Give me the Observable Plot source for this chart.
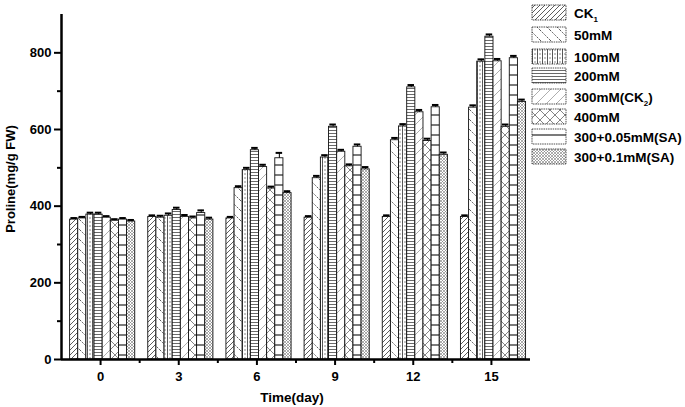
<!DOCTYPE html>
<html>
<head>
<meta charset="utf-8">
<script src="https://cdn.jsdelivr.net/npm/d3@7"></script>
<script src="https://cdn.jsdelivr.net/npm/@observablehq/plot@0.6"></script>
<style>
  html, body { margin: 0; padding: 0; background: #fff; }
  #chart { position: relative; width: 685px; height: 407px; }
</style>
</head>
<body>
<div id="chart"></div>
<script>
const days = [0, 3, 6, 9, 12, 15];
const seriesNames = ["CK1", "50mM", "100mM", "200mM", "300mM(CK2)", "400mM", "300+0.05mM(SA)", "300+0.1mM(SA)"];
const ck1     = [365, 372, 368, 370, 372, 372];
const mM50    = [368, 370, 447, 473, 572, 657];
const mM100   = [378, 375, 494, 527, 608, 777];
const mM200   = [378, 390, 546, 607, 710, 842];
const mM300   = [370, 372, 502, 542, 645, 778];
const mM400   = [362, 368, 446, 504, 570, 607];
const sa005   = [365, 382, 525, 555, 658, 786];
const sa01    = [360, 365, 434, 496, 534, 672];
const errCk1  = [4, 4, 4, 4, 4, 4];
const err50   = [4, 5, 5, 6, 6, 6];
const err100  = [5, 6, 6, 6, 6, 6];
const err200  = [5, 6, 6, 6, 6, 6];
const err300  = [4, 5, 6, 5, 6, 6];
const err400  = [4, 5, 5, 5, 6, 6];
const errSa005= [4, 7, 14, 6, 6, 6];
const errSa01 = [4, 5, 5, 6, 6, 6];
const yMajorTicks = [0, 200, 400, 600, 800];
const yMinorTicks = [100, 300, 500, 700];
const xMinorTicks = [1.5, 4.5, 7.5, 10.5, 13.5];

const allValues = [ck1, mM50, mM100, mM200, mM300, mM400, sa005, sa01];
const allErrors = [errCk1, err50, err100, err200, err300, err400, errSa005, errSa01];

const barW = 0.3125; // width of one bar in day units
const table = [];
allValues.forEach((vals, s) => {
  vals.forEach((v, i) => {
    table.push({series: seriesNames[s], s, day: days[i], value: v, err: allErrors[s][i]});
  });
});
const left = d => d.day + (d.s - 4) * barW + 0.08;
const mid = d => left(d) + barW / 2;
const cap = barW * 0.4;

const marks = [];
seriesNames.forEach((name, s) => {
  const rows = table.filter(d => d.s === s);
  marks.push(Plot.rectY(rows, {
    x1: left, x2: d => left(d) + barW, y1: 0, y2: "value",
    fill: `url(#pat${s})`, stroke: "#111", strokeWidth: 0.9
  }));
  marks.push(Plot.ruleX(rows, {x: mid, y1: "value", y2: d => d.value + d.err, stroke: "#000", strokeWidth: 1}));
  marks.push(Plot.ruleY(rows, {x1: d => mid(d) - cap, x2: d => mid(d) + cap, y: d => d.value + d.err, stroke: "#000", strokeWidth: 2}));
});

const chart = Plot.plot({
  width: 685,
  height: 407,
  marginLeft: 61,
  marginRight: 155,
  marginTop: 14,
  marginBottom: 48,
  style: {fontFamily: "'Liberation Sans', Arial, sans-serif", fontSize: "13px", fontWeight: "bold", color: "#000", background: "#fff"},
  x: {type: "linear", domain: [-1.5, 16.5], label: null},
  y: {type: "linear", domain: [0, 900], label: null},
  marks: [
    ...marks,
    Plot.axisY({ticks: yMajorTicks, tickSize: 7, tickPadding: 3, tickFormat: d => d, strokeWidth: 2, label: null}),
    Plot.axisY({ticks: yMinorTicks, tickSize: 4, tickFormat: () => "", strokeWidth: 2, label: null}),
    Plot.axisX({ticks: days, tickSize: 6, tickPadding: 6, tickFormat: d => d, strokeWidth: 2, label: null}),
    Plot.axisX({ticks: xMinorTicks, tickSize: 4, tickFormat: () => "", strokeWidth: 2, label: null}),
    Plot.ruleX([-1.5], {stroke: "#000", strokeWidth: 2.5}),
    Plot.ruleY([0], {stroke: "#000", strokeWidth: 2.5})
  ]
});
document.getElementById("chart").appendChild(chart);

const svg = d3.select(chart);
const defs = svg.insert("defs", ":first-child");
function pat(id, w, h, draw) {
  const p = defs.append("pattern").attr("id", id).attr("patternUnits", "userSpaceOnUse")
    .attr("width", w).attr("height", h);
  p.append("rect").attr("width", w).attr("height", h).attr("fill", "#fff");
  draw(p);
}
// CK1: dense "/" hatch
pat("pat0", 5, 5, p => p.append("path").attr("d", "M0,5 L5,0 M-1,1 L1,-1 M4,6 L6,4").attr("stroke", "#333").attr("stroke-width", 0.8));
// 50mM: sparse "\" dotted
pat("pat1", 10, 10, p => p.append("path").attr("d", "M0,0 L10,10 M-2,8 L2,12 M8,-2 L12,2").attr("stroke", "#444").attr("stroke-width", 0.9).attr("stroke-dasharray", "1.5,1"));
// 100mM: grid with +
pat("pat2", 5, 4, p => {
  p.append("path").attr("d", "M0,2 L5,2").attr("stroke", "#555").attr("stroke-width", 0.7).attr("stroke-dasharray", "1,1");
  p.append("path").attr("d", "M2.5,0 L2.5,4").attr("stroke", "#333").attr("stroke-width", 0.8);
});
// 200mM: horizontal lines
pat("pat3", 4, 3, p => p.append("path").attr("d", "M0,1.5 L4,1.5").attr("stroke", "#444").attr("stroke-width", 0.8));
// 300mM(CK2): sparse light "/"
pat("pat4", 10, 10, p => p.append("path").attr("d", "M0,10 L10,0 M-2,2 L2,-2 M8,12 L12,8").attr("stroke", "#999").attr("stroke-width", 0.8));
// 400mM: crosshatch X
pat("pat5", 10, 10, p => p.append("path").attr("d", "M0,0 L10,10 M0,10 L10,0").attr("stroke", "#666").attr("stroke-width", 0.8));
// 300+0.05mM(SA): sparse thick horizontal dashes
pat("pat6", 8, 10, p => p.append("path").attr("d", "M0,5 L8,5").attr("stroke", "#222").attr("stroke-width", 1.2));
// 300+0.1mM(SA): dense fine crosshatch
pat("pat7", 3, 3, p => p.append("path").attr("d", "M0,0 L3,3 M0,3 L3,0").attr("stroke", "#777").attr("stroke-width", 0.6));

// axis titles
svg.append("text").attr("transform", "translate(15,179) rotate(-90)").attr("text-anchor", "middle")
  .attr("font-size", 13).attr("font-weight", "bold").text("Proline(mg/g FW)");
svg.append("text").attr("x", 292).attr("y", 402).attr("text-anchor", "middle")
  .attr("font-size", 13.5).attr("font-weight", "bold").text("Time(day)");

// legend
const legendY = [13, 35, 57, 76, 97, 117, 137, 157];
const lg = svg.append("g").attr("text-anchor", "start");
seriesNames.forEach((name, s) => {
  const cy = legendY[s];
  lg.append("rect").attr("x", 532).attr("y", cy - 8).attr("width", 34).attr("height", 15)
    .attr("fill", `url(#pat${s})`).attr("stroke", "#222").attr("stroke-width", 0.8).attr("stroke-dasharray", "1.5,0.8");
  const t = lg.append("text").attr("x", 574).attr("y", cy + 5).attr("font-size", 13.5).attr("font-weight", "bold");
  const m = name.match(/^(.*CK)(\d)(.*)$/);
  if (m) {
    t.append("tspan").text(m[1]);
    t.append("tspan").attr("dy", 4).attr("font-size", 8).text(m[2]);
    t.append("tspan").attr("dy", -4).text(m[3]);
  } else {
    t.text(name);
  }
});
</script>
</body>
</html>
